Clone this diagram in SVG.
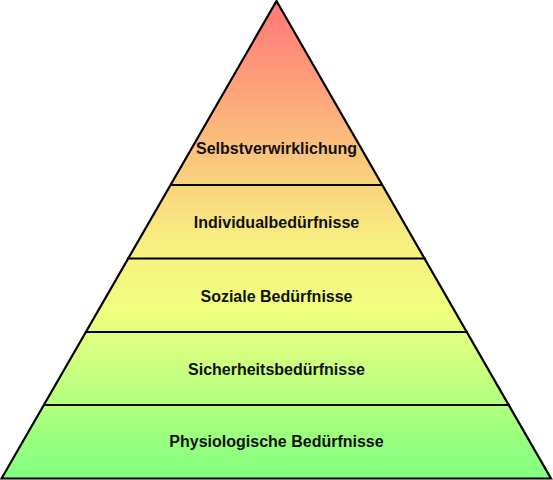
<svg xmlns="http://www.w3.org/2000/svg" width="553" height="480" viewBox="0 0 553 480">
<defs>
<linearGradient id="g" x1="0" y1="1" x2="0" y2="479" gradientUnits="userSpaceOnUse">
<stop offset="0" stop-color="#ff7777"/>
<stop offset="0.5" stop-color="#f8ee80"/>
<stop offset="0.65" stop-color="#f0ff7f"/>
<stop offset="1" stop-color="#7fff7f"/>
</linearGradient>
</defs>
<style>
.t{font-family:"Liberation Sans",Arial,sans-serif;font-weight:bold;font-size:16px;fill:#111;text-anchor:middle}
.l{stroke:#000;stroke-width:2;fill:none}
</style>
<polygon points="276.5,1 551,478.5 1.5,478.5" fill="url(#g)" stroke="#000" stroke-width="2.2" stroke-linejoin="miter"/>
<g id="connectors">
<line class="l" x1="170" y1="185" x2="383" y2="185"/>
<line class="l" x1="127" y1="258.5" x2="426" y2="258.5"/>
<line class="l" x1="85" y1="332" x2="468" y2="332"/>
<line class="l" x1="43" y1="405" x2="510" y2="405"/>
</g>
<g id="n1"><text class="t" x="276.5" y="154">Selbstverwirklichung</text></g>
<g id="n2"><text class="t" x="276.5" y="228">Individualbedürfnisse</text></g>
<g id="n3"><text class="t" x="276.5" y="302">Soziale Bedürfnisse</text></g>
<g id="n4"><text class="t" x="276.5" y="375">Sicherheitsbedürfnisse</text></g>
<g id="n5"><text class="t" x="276.5" y="447">Physiologische Bedürfnisse</text></g>
</svg>
